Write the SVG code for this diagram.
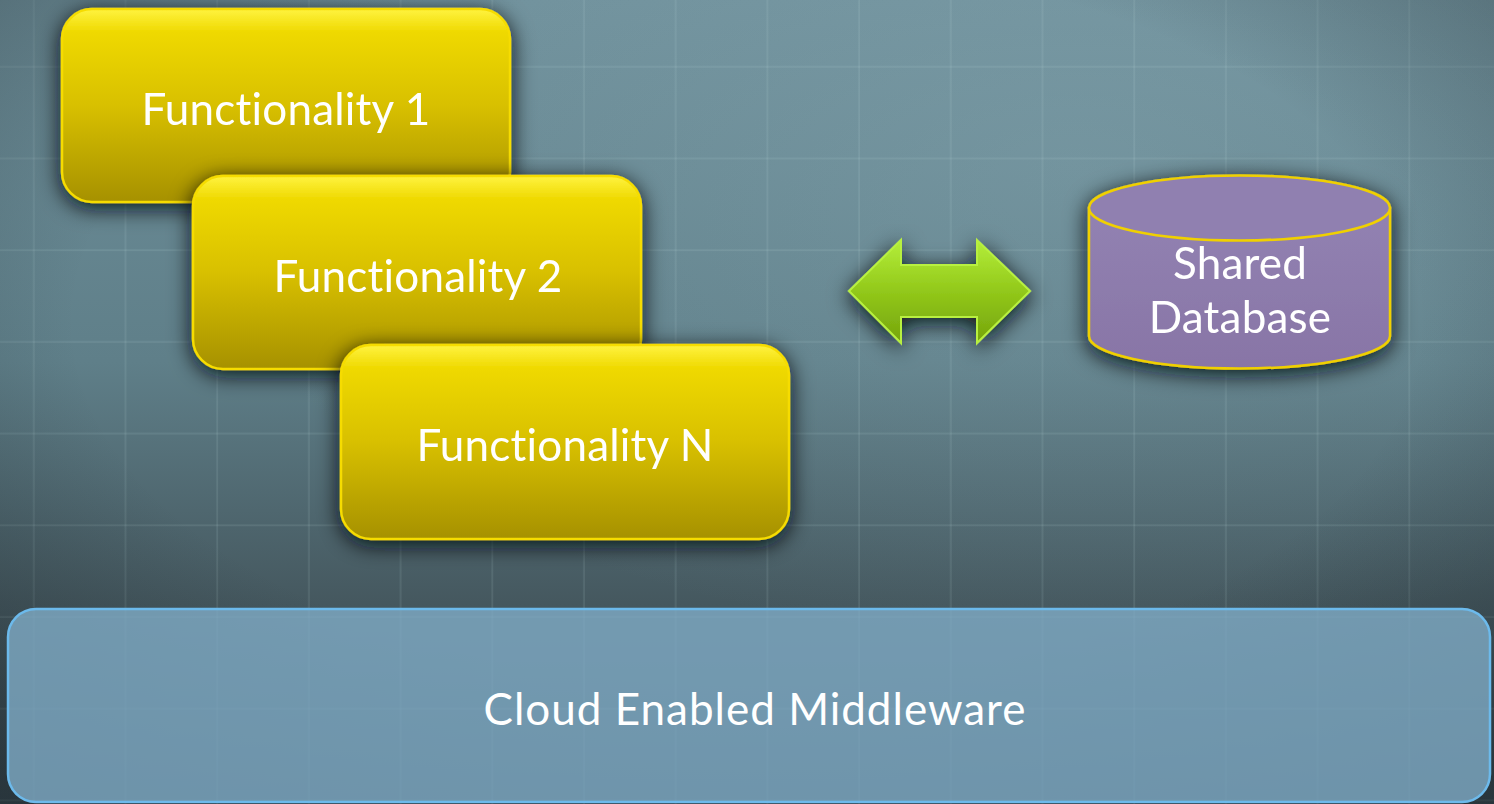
<svg xmlns="http://www.w3.org/2000/svg" width="1494" height="804" viewBox="0 0 1494 804">
  <defs>
    <linearGradient id="bg" x1="0" y1="0" x2="0" y2="1">
      <stop offset="0" stop-color="#6f909b"/>
      <stop offset="0.45" stop-color="#5f7f89"/>
      <stop offset="0.75" stop-color="#45585f"/>
      <stop offset="1" stop-color="#33424a"/>
    </linearGradient>
    <radialGradient id="glow" cx="0.72" cy="0.2" r="0.6">
      <stop offset="0" stop-color="#8fb0ba" stop-opacity="0.3"/>
      <stop offset="1" stop-color="#8fb0ba" stop-opacity="0"/>
    </radialGradient>
    <radialGradient id="vignette" cx="0.5" cy="0.4" r="0.75">
      <stop offset="0.6" stop-color="#1c262b" stop-opacity="0"/>
      <stop offset="1" stop-color="#1c262b" stop-opacity="0.45"/>
    </radialGradient>
    <pattern id="grid" x="-57" y="-24" width="91.7" height="91.7" patternUnits="userSpaceOnUse">
      <rect x="90" y="0" width="3" height="91.7" fill="#c8dde4" opacity="0.12"/>
      <rect x="0" y="90" width="91.7" height="3" fill="#c8dde4" opacity="0.12"/>
    </pattern>
    <linearGradient id="gold" x1="0" y1="0" x2="0" y2="1">
      <stop offset="0" stop-color="#fff340"/>
      <stop offset="0.12" stop-color="#efd900"/>
      <stop offset="0.5" stop-color="#d8c000"/>
      <stop offset="1" stop-color="#a69100"/>
    </linearGradient>
    <linearGradient id="lime" x1="0" y1="0" x2="0" y2="1">
      <stop offset="0" stop-color="#b4ee3a"/>
      <stop offset="0.5" stop-color="#92c81a"/>
      <stop offset="1" stop-color="#75a40c"/>
    </linearGradient>
    <linearGradient id="violet" x1="0" y1="0" x2="0" y2="1">
      <stop offset="0" stop-color="#9282b2"/>
      <stop offset="1" stop-color="#8875a6"/>
    </linearGradient>
    <filter id="shadow" x="-20%" y="-20%" width="140%" height="150%">
      <feGaussianBlur in="SourceAlpha" stdDeviation="11"/>
      <feOffset dx="0" dy="5" result="b"/>
      <feFlood flood-color="#0a1013" flood-opacity="0.95"/>
      <feComposite in2="b" operator="in"/>
      <feMerge><feMergeNode/><feMergeNode in="SourceGraphic"/></feMerge>
    </filter>
    <style>
      .func { fill: url(#gold); stroke: #f6dc00; stroke-width: 2.5; }
      .label { font-family: Lato, "Open Sans", sans-serif; font-size: 44px; fill: #ffffff; text-anchor: middle;
               font-variant-ligatures: none; font-feature-settings: "liga" 0, "clig" 0, "dlig" 0; letter-spacing: 0.2px; }
      .wide { letter-spacing: 1px; }
    </style>
  </defs>

  <!-- backdrop -->
  <rect width="1494" height="804" fill="url(#bg)"/>
  <rect width="1494" height="804" fill="url(#glow)"/>
  <rect width="1494" height="804" fill="url(#grid)"/>
  <rect width="1494" height="804" fill="url(#vignette)"/>

  <!-- middleware layer -->
  <g id="middleware">
    <rect x="8" y="609" width="1482" height="193" rx="28" fill="#80abc6" fill-opacity="0.8" stroke="#6cbaec" stroke-width="2.5"/>
    <text class="label wide" x="755" y="725">Cloud Enabled Middleware</text>
  </g>

  <!-- stacked functionality boxes -->
  <g id="func1" filter="url(#shadow)">
    <rect class="func" x="62" y="9" width="448" height="193" rx="30"/>
    <text class="label" x="286" y="125">Functionality 1</text>
  </g>
  <g id="func2" filter="url(#shadow)">
    <rect class="func" x="193" y="176" width="448" height="193" rx="30"/>
    <text class="label" x="418" y="292">Functionality 2</text>
  </g>
  <g id="funcN" filter="url(#shadow)">
    <rect class="func" x="341" y="345" width="448" height="194" rx="30"/>
    <text class="label" x="565" y="461">Functionality N</text>
  </g>

  <!-- two-way link -->
  <g id="connectors">
    <path filter="url(#shadow)" d="M849,291 L901,240 L901,265 L977,265 L977,240 L1030,291 L977,343 L977,317 L901,317 L901,343 Z" fill="url(#lime)" stroke="#b8f040" stroke-width="2" stroke-linejoin="miter"/>
  </g>

  <!-- shared database cylinder -->
  <g id="database" filter="url(#shadow)">
    <path d="M1089,208 L1089,336 A150.5,32.5 0 0 0 1390,336 L1390,208 Z" fill="url(#violet)" stroke="#f0d000" stroke-width="2.5"/>
    <ellipse cx="1239.5" cy="208" rx="150.5" ry="32.5" fill="#9080b0" stroke="#f0d000" stroke-width="2.5"/>
    <text class="label" x="1240" y="279">Shared</text>
    <text class="label" x="1240" y="333">Database</text>
  </g>
</svg>
